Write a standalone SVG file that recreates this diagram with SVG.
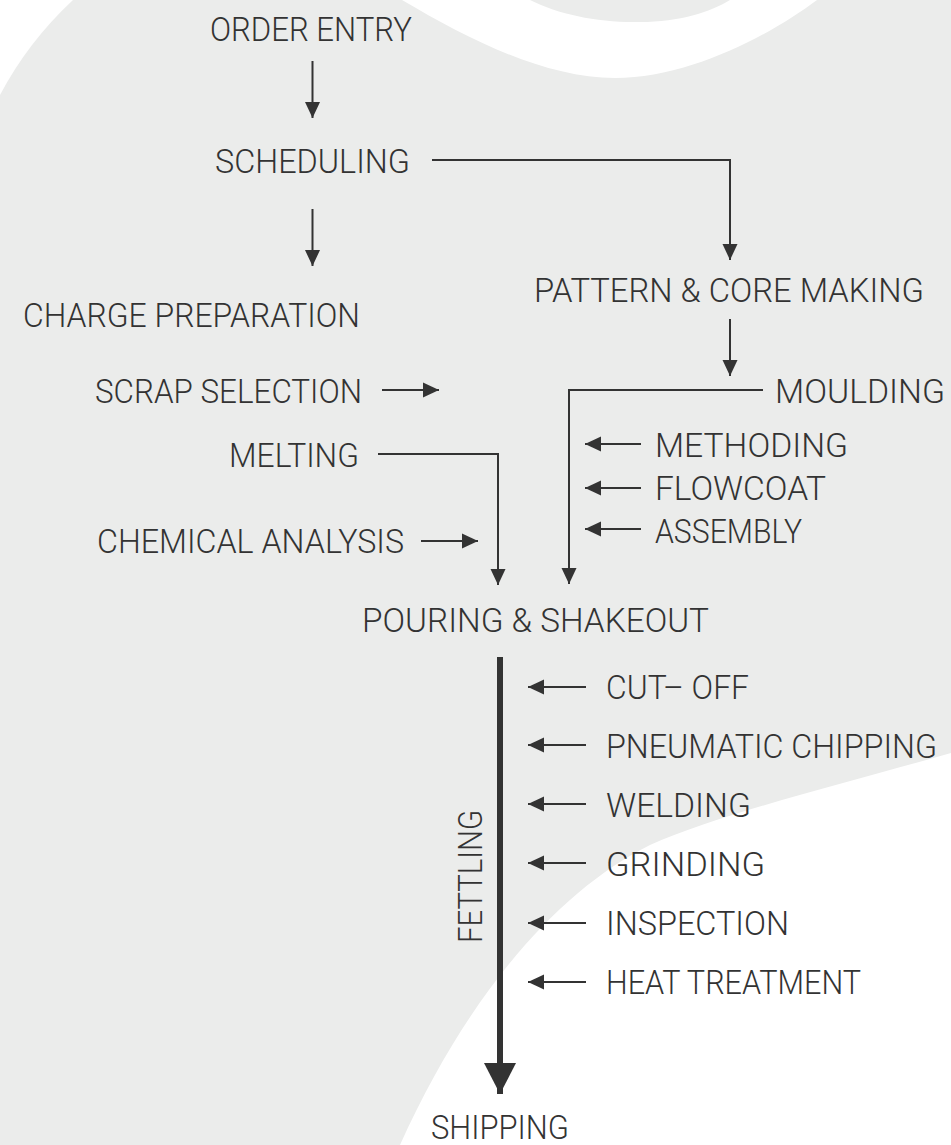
<svg xmlns="http://www.w3.org/2000/svg" width="951" height="1145" viewBox="0 0 951 1145">
<style>
.t{font-family:Roboto,"Liberation Sans",sans-serif;font-size:33px;font-weight:300;fill:#333;}
.c{fill:none;stroke:#333;stroke-width:2;}
.ca{fill:none;stroke:#333;stroke-width:2;marker-end:url(#ah);}
</style>
<defs>
<marker id="ah" markerUnits="userSpaceOnUse" viewBox="0 -8 17 16" refX="16" refY="0" markerWidth="17" markerHeight="16" orient="auto">
<path d="M0,-7.5 L16,0 L0,7.5 Z" fill="#333"/>
</marker>
<marker id="big" markerUnits="userSpaceOnUse" viewBox="0 -17 32 34" refX="31" refY="0" markerWidth="32" markerHeight="34" orient="auto">
<path d="M0,-16 L31,0 L0,16 Z" fill="#333"/>
</marker>
</defs>
<g id="background">
<rect x="0" y="0" width="951" height="1145" fill="#EBECEB"/>
<path d="M0,0 L73,0 Q28,42 0,95 Z" fill="#fff"/>
<path d="M402,0 C470,40 545,78 615,78 C690,78 770,35 817,0 L730,0 C710,12 680,22 640,22 C600,23 560,15 530,0 Z" fill="#fff"/>
<path d="M951,753 C850,782 725,812 650,845 C560,890 470,990 400,1145 L951,1145 Z" fill="#fff"/>
</g>
<g id="connectors">
<line class="ca" x1="312.5" y1="61" x2="312.5" y2="118"/>
<line class="ca" x1="312.5" y1="209" x2="312.5" y2="266"/>
<polyline class="ca" points="432,160 730,160 730,260"/>
<line class="ca" x1="730" y1="319" x2="730" y2="376"/>
<line class="ca" x1="382" y1="390" x2="439" y2="390"/>
<polyline class="ca" points="763,390 569,390 569,584"/>
<line class="ca" x1="641" y1="444" x2="585" y2="444"/>
<line class="ca" x1="641" y1="488" x2="585" y2="488"/>
<line class="ca" x1="641" y1="529" x2="585" y2="529"/>
<polyline class="ca" points="378,454 498,454 498,585"/>
<line class="ca" x1="421" y1="541" x2="478" y2="541"/>
<line x1="500" y1="657" x2="500" y2="1094" stroke="#333" stroke-width="6" marker-end="url(#big)"/>
<line class="ca" x1="586" y1="687" x2="528" y2="687"/>
<line class="ca" x1="586" y1="745" x2="528" y2="745"/>
<line class="ca" x1="586" y1="804" x2="528" y2="804"/>
<line class="ca" x1="586" y1="863" x2="528" y2="863"/>
<line class="ca" x1="586" y1="923" x2="528" y2="923"/>
<line class="ca" x1="586" y1="982" x2="528" y2="982"/>
</g>
<g id="order-entry"><text class="t" x="210" y="41" textLength="202" lengthAdjust="spacingAndGlyphs">ORDER ENTRY</text></g>
<g id="scheduling"><text class="t" x="215" y="173" textLength="195" lengthAdjust="spacingAndGlyphs">SCHEDULING</text></g>
<g id="charge-preparation"><text class="t" x="23" y="327" textLength="337" lengthAdjust="spacingAndGlyphs">CHARGE PREPARATION</text></g>
<g id="pattern-core"><text class="t" x="534" y="302" textLength="390" lengthAdjust="spacingAndGlyphs">PATTERN &amp; CORE MAKING</text></g>
<g id="scrap-selection"><text class="t" x="95" y="403" textLength="267" lengthAdjust="spacingAndGlyphs">SCRAP SELECTION</text></g>
<g id="moulding"><text class="t" x="775" y="403" textLength="170" lengthAdjust="spacingAndGlyphs">MOULDING</text></g>
<g id="methoding"><text class="t" x="655" y="457" textLength="193" lengthAdjust="spacingAndGlyphs">METHODING</text></g>
<g id="flowcoat"><text class="t" x="655" y="500" textLength="171" lengthAdjust="spacingAndGlyphs">FLOWCOAT</text></g>
<g id="assembly"><text class="t" x="655" y="543" textLength="147" lengthAdjust="spacingAndGlyphs">ASSEMBLY</text></g>
<g id="melting"><text class="t" x="229" y="467" textLength="130" lengthAdjust="spacingAndGlyphs">MELTING</text></g>
<g id="chemical-analysis"><text class="t" x="97" y="553" textLength="307" lengthAdjust="spacingAndGlyphs">CHEMICAL ANALYSIS</text></g>
<g id="pouring-shakeout"><text class="t" x="362" y="632" textLength="347" lengthAdjust="spacingAndGlyphs">POURING &amp; SHAKEOUT</text></g>
<g id="cut-off"><text class="t" x="606" y="699" textLength="143" lengthAdjust="spacingAndGlyphs">CUT– OFF</text></g>
<g id="pneumatic-chipping"><text class="t" x="606" y="758" textLength="331" lengthAdjust="spacingAndGlyphs">PNEUMATIC CHIPPING</text></g>
<g id="welding"><text class="t" x="606" y="817" textLength="145" lengthAdjust="spacingAndGlyphs">WELDING</text></g>
<g id="grinding"><text class="t" x="606" y="876" textLength="159" lengthAdjust="spacingAndGlyphs">GRINDING</text></g>
<g id="inspection"><text class="t" x="606" y="935" textLength="183" lengthAdjust="spacingAndGlyphs">INSPECTION</text></g>
<g id="heat-treatment"><text class="t" x="606" y="994" textLength="255" lengthAdjust="spacingAndGlyphs">HEAT TREATMENT</text></g>
<g id="fettling"><text class="t" x="482" y="943" transform="rotate(-90 482 943)" textLength="133" lengthAdjust="spacingAndGlyphs">FETTLING</text></g>
<g id="shipping"><text class="t" x="431" y="1139" textLength="138" lengthAdjust="spacingAndGlyphs">SHIPPING</text></g>
</svg>
